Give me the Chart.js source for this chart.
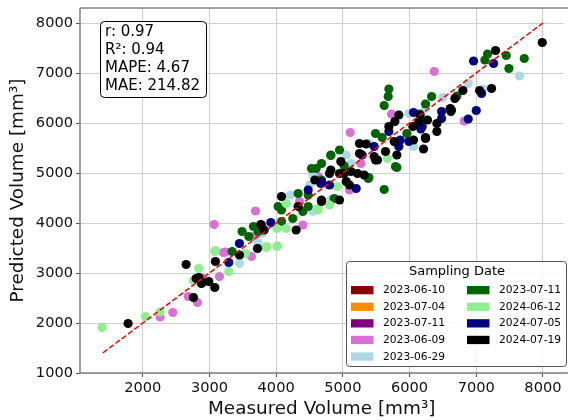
<!DOCTYPE html>
<html>
<head>
<meta charset="utf-8">
<script src="https://cdn.jsdelivr.net/npm/chart.js@4/dist/chart.umd.min.js"></script>
<style>
  html, body { margin: 0; padding: 0; background: #fff; }
  #wrap { width: 568px; height: 420px; }
</style>
</head>
<body>
<div id="wrap"><canvas id="myChart" width="568" height="420"></canvas></div>
<script>
// sampling dates (legend order, matplotlib draws in this order)
var dates = ['2023-06-10', '2023-07-04', '2023-07-11', '2023-06-09', '2023-06-29', '2023-07-11', '2024-06-12', '2024-07-05', '2024-07-19'];
var colors = ['#8b0000', '#ff8c00', '#800080', '#da70d6', '#add8e6', '#006400', '#90ee90', '#000080', '#000000'];

// [measured, predicted] per sampling date
var pts_20230610 = [];
var pts_20230704 = [];
var pts_20230711a = [];
var pts_20230609 = [[2260,2120],[2450,2210],[2680,2530],[2820,2410],[2890,2900],[3070,3970],[3150,2930],[3210,3410],[3240,3420],
  [3630,3330],[3690,4240],[3660,3730],[4400,3960],[4630,4930],[4350,4430],[5110,5810],[5270,5190],[5100,4660],[5730,6180],
  [6370,7030],[6820,6040]];
var pts_20230629 = [[3450,3190],[3730,3610],[3780,3790],[4210,4560],[4500,4760],[4550,4960],[4550,4230],[4820,4460],[5050,5360],
  [5120,5190],[5390,5590],[5810,5560],[5990,6190],[6240,6290],[6500,6510],[6060,5530],[6880,6790],[7100,6680],[7650,6940]];
var pts_20230711b = [[3340,3430],[3590,3730],[3660,3930],[3730,3830],[3490,3830],[4030,4330],[4080,4260],[4080,4030],[4820,5350],
  [4680,5190],[4600,5090],[4530,5090],[5020,5140],[4330,4590],[4480,4560],[4870,4490],[4400,4230],[4250,4090],[4480,4330],
  [4680,4860],[4950,5460],[4820,5360],[5490,5790],[5590,5710],[5790,5130],[5380,4890],[5620,4670],[5690,6680],[5680,6530],
  [5620,6350],[6240,6380],[6150,6180],[6330,6530],[6710,6540],[5960,5790],[5810,5110],[5390,4910],[7170,7380],[7130,7260],
  [7450,7350],[7720,7290],[7490,7090]];
var pts_20240612 = [[1390,1910],[2040,2130],[2260,2220],[2760,2850],[2840,3090],[2770,2860],[3080,3430],[3090,3450],[3290,3030],
  [3540,3390],[3850,3510],[4020,3540],[3860,3530],[4010,3530],[4150,4390],[4010,3890],[4150,3890],[4630,4260],[4800,4360],
  [4920,4730],[4630,4290],[5670,5290]];
var pts_20240705 = [[3290,3210],[3450,3590],[3920,4010],[4670,4790],[4480,4660],[5470,5530],[4680,4830],[4800,4760],[5200,4690],
  [5290,5360],[6060,6210],[6480,6230],[6480,6090],[5690,5830],[6190,5930],[5990,5630],[5860,5660],[5840,5530],[6960,7240],
  [7260,7190],[7080,6590],[7000,6250],[6880,6080],[6170,5880]];
var pts_20240719 = [[1780,1990],[2650,3170],[2800,2890],[2880,2790],[2760,2510],[2990,2830],[2890,2810],[2840,2910],[3080,2710],
  [3090,3230],[3450,3360],[3720,3490],[3770,3970],[3820,3860],[3780,3960],[4080,4530],[4330,4330],[4300,3860],[4680,4430],
  [4800,4990],[5050,4830],[4680,4460],[4950,4460],[4580,4860],[5100,4760],[5350,5580],[5250,5590],[5640,5430],[5250,5390],
  [5470,5330],[5490,5260],[4970,5230],[4820,5060],[4950,4990],[5020,4990],[5120,5030],[5220,4990],[5320,4960],[5690,5930],
  [5840,6160],[6160,6160],[6140,6030],[6270,6060],[5780,6030],[6050,5930],[6410,5990],[6410,5830],[6060,5660],[6240,5690],
  [6210,5480],[5770,5630],[5810,5360],[5520,5260],[7990,7610],[7290,7450],[7230,6690],[7050,6650],[6800,6650],[6680,6490],
  [6630,6260],[6610,6290],[6620,6230],[6240,5710]];
var series = [pts_20230610, pts_20230704, pts_20230711a, pts_20230609, pts_20230629, pts_20230711b, pts_20240612, pts_20240705, pts_20240719];

// identity line between min and max measured
var lineX = [1400, 8000];
var lineY = [1400, 8000];

var xTicks = [2000, 3000, 4000, 5000, 6000, 7000, 8000];
var yTicks = [1000, 2000, 3000, 4000, 5000, 6000, 7000, 8000];
var statLines = ['r: 0.97', 'R\u00b2: 0.94', 'MAPE: 4.67', 'MAE: 214.82'];

var FONT = "'DejaVu Sans', sans-serif";

var datasets = [];
for (let i in series) {
  datasets.push({
    label: dates[i],
    data: series[i].map(p => ({ x: p[0], y: p[1] })),
    backgroundColor: colors[i],
    borderWidth: 0,
    pointRadius: 4.6,
    pointHoverRadius: 4.6,
    order: 20 - i
  })
}
datasets.push({
  label: 'identity',
  data: lineX.map((v, i) => ({ x: v, y: lineY[i] })),
  showLine: true,
  borderColor: '#ff0000',
  borderWidth: 1.5,
  borderDash: [5.5, 2.4],
  pointRadius: 0,
  order: 0
})

// frame, stats box, legend box
const boxes = {
  id: 'boxes',
  afterDatasetsDraw(chart) {
    const ctx = chart.ctx, a = chart.chartArea;
    ctx.save();
    ctx.strokeStyle = '#808080';
    ctx.lineWidth = 1.5;
    ctx.beginPath();
    ctx.moveTo(a.left, a.top); ctx.lineTo(chart.width, a.top);
    ctx.moveTo(a.left, a.top); ctx.lineTo(a.left, a.bottom);
    ctx.lineTo(chart.width, a.bottom);
    ctx.stroke();
    ctx.restore();
  },
  afterDraw(chart) {
    const ctx = chart.ctx;
    ctx.save();
    // stats
    ctx.beginPath();
    ctx.roundRect(100.5, 21.5, 106, 76, 4);
    ctx.fillStyle = '#fff'; ctx.fill();
    ctx.strokeStyle = '#000'; ctx.lineWidth = 1; ctx.stroke();
    ctx.fillStyle = '#000';
    ctx.font = '15px ' + FONT;
    ctx.textBaseline = 'middle';
    statLines.forEach((t, i) => ctx.fillText(t, 105, 32 + i * 18));
    // legend
    ctx.beginPath();
    ctx.roundRect(346.5, 261.5, 220, 105, 3);
    ctx.fillStyle = 'rgba(255,255,255,0.85)'; ctx.fill();
    ctx.strokeStyle = '#555'; ctx.lineWidth = 1; ctx.stroke();
    ctx.fillStyle = '#000';
    ctx.font = '13px ' + FONT;
    ctx.textAlign = 'center';
    ctx.fillText('Sampling Date', 457, 272);
    ctx.textAlign = 'left';
    ctx.font = '10.7px ' + FONT;
    for (let i in dates) {
      const col = i < 5 ? 0 : 1, row = i < 5 ? i : i - 5;
      const px = col ? 467 : 351, py = 290 + row * 16.6;
      ctx.fillStyle = colors[i];
      ctx.fillRect(px, py - 4, 22.5, 8.3);
      ctx.fillStyle = '#000';
      ctx.fillText(dates[i], px + 32, py + 0.5);
    }
    ctx.restore();
  }
};

const myChart = new Chart('myChart', {
  type: 'scatter',
  data: { datasets: datasets },
  plugins: [boxes],
  options: {
    responsive: false,
    animation: false,
    events: [],
    layout: { padding: { top: 8, right: -5, left: 0, bottom: 0 } },
    plugins: { legend: { display: false }, tooltip: { enabled: false } },
    scales: {
      x: {
        type: 'linear', min: 1059, max: 8307,
        afterBuildTicks: s => { s.ticks = xTicks.map(v => ({ value: v })) },
        afterFit: s => { s.height = 47; s.paddingLeft = 0; s.paddingRight = 0 },
        grid: { color: '#cfcfcf', lineWidth: 1, tickLength: 4, tickColor: '#555' },
        border: { display: false },
        ticks: { color: '#111', font: { family: FONT, size: 14.6 }, padding: 2, maxRotation: 0, callback: v => String(v) },
        title: { display: true, text: 'Measured Volume [mm\u00b3]', color: '#111', font: { family: FONT, size: 18.4 }, padding: { top: 0, bottom: 0 } }
      },
      y: {
        type: 'linear', min: 1000, max: 8300,
        afterBuildTicks: s => { s.ticks = yTicks.map(v => ({ value: v })) },
        afterFit: s => { s.width = 80; s.paddingTop = 0; s.paddingBottom = 0 },
        grid: { color: '#cfcfcf', lineWidth: 1, tickLength: 4, tickColor: '#555' },
        border: { display: false },
        ticks: { color: '#111', font: { family: FONT, size: 14.6 }, padding: 3, callback: v => String(v) },
        title: { display: true, text: 'Predicted Volume [mm\u00b3]', color: '#111', font: { family: FONT, size: 18.4 }, padding: { top: 7, bottom: 0 } }
      }
    }
  }
});
</script>
</body>
</html>
